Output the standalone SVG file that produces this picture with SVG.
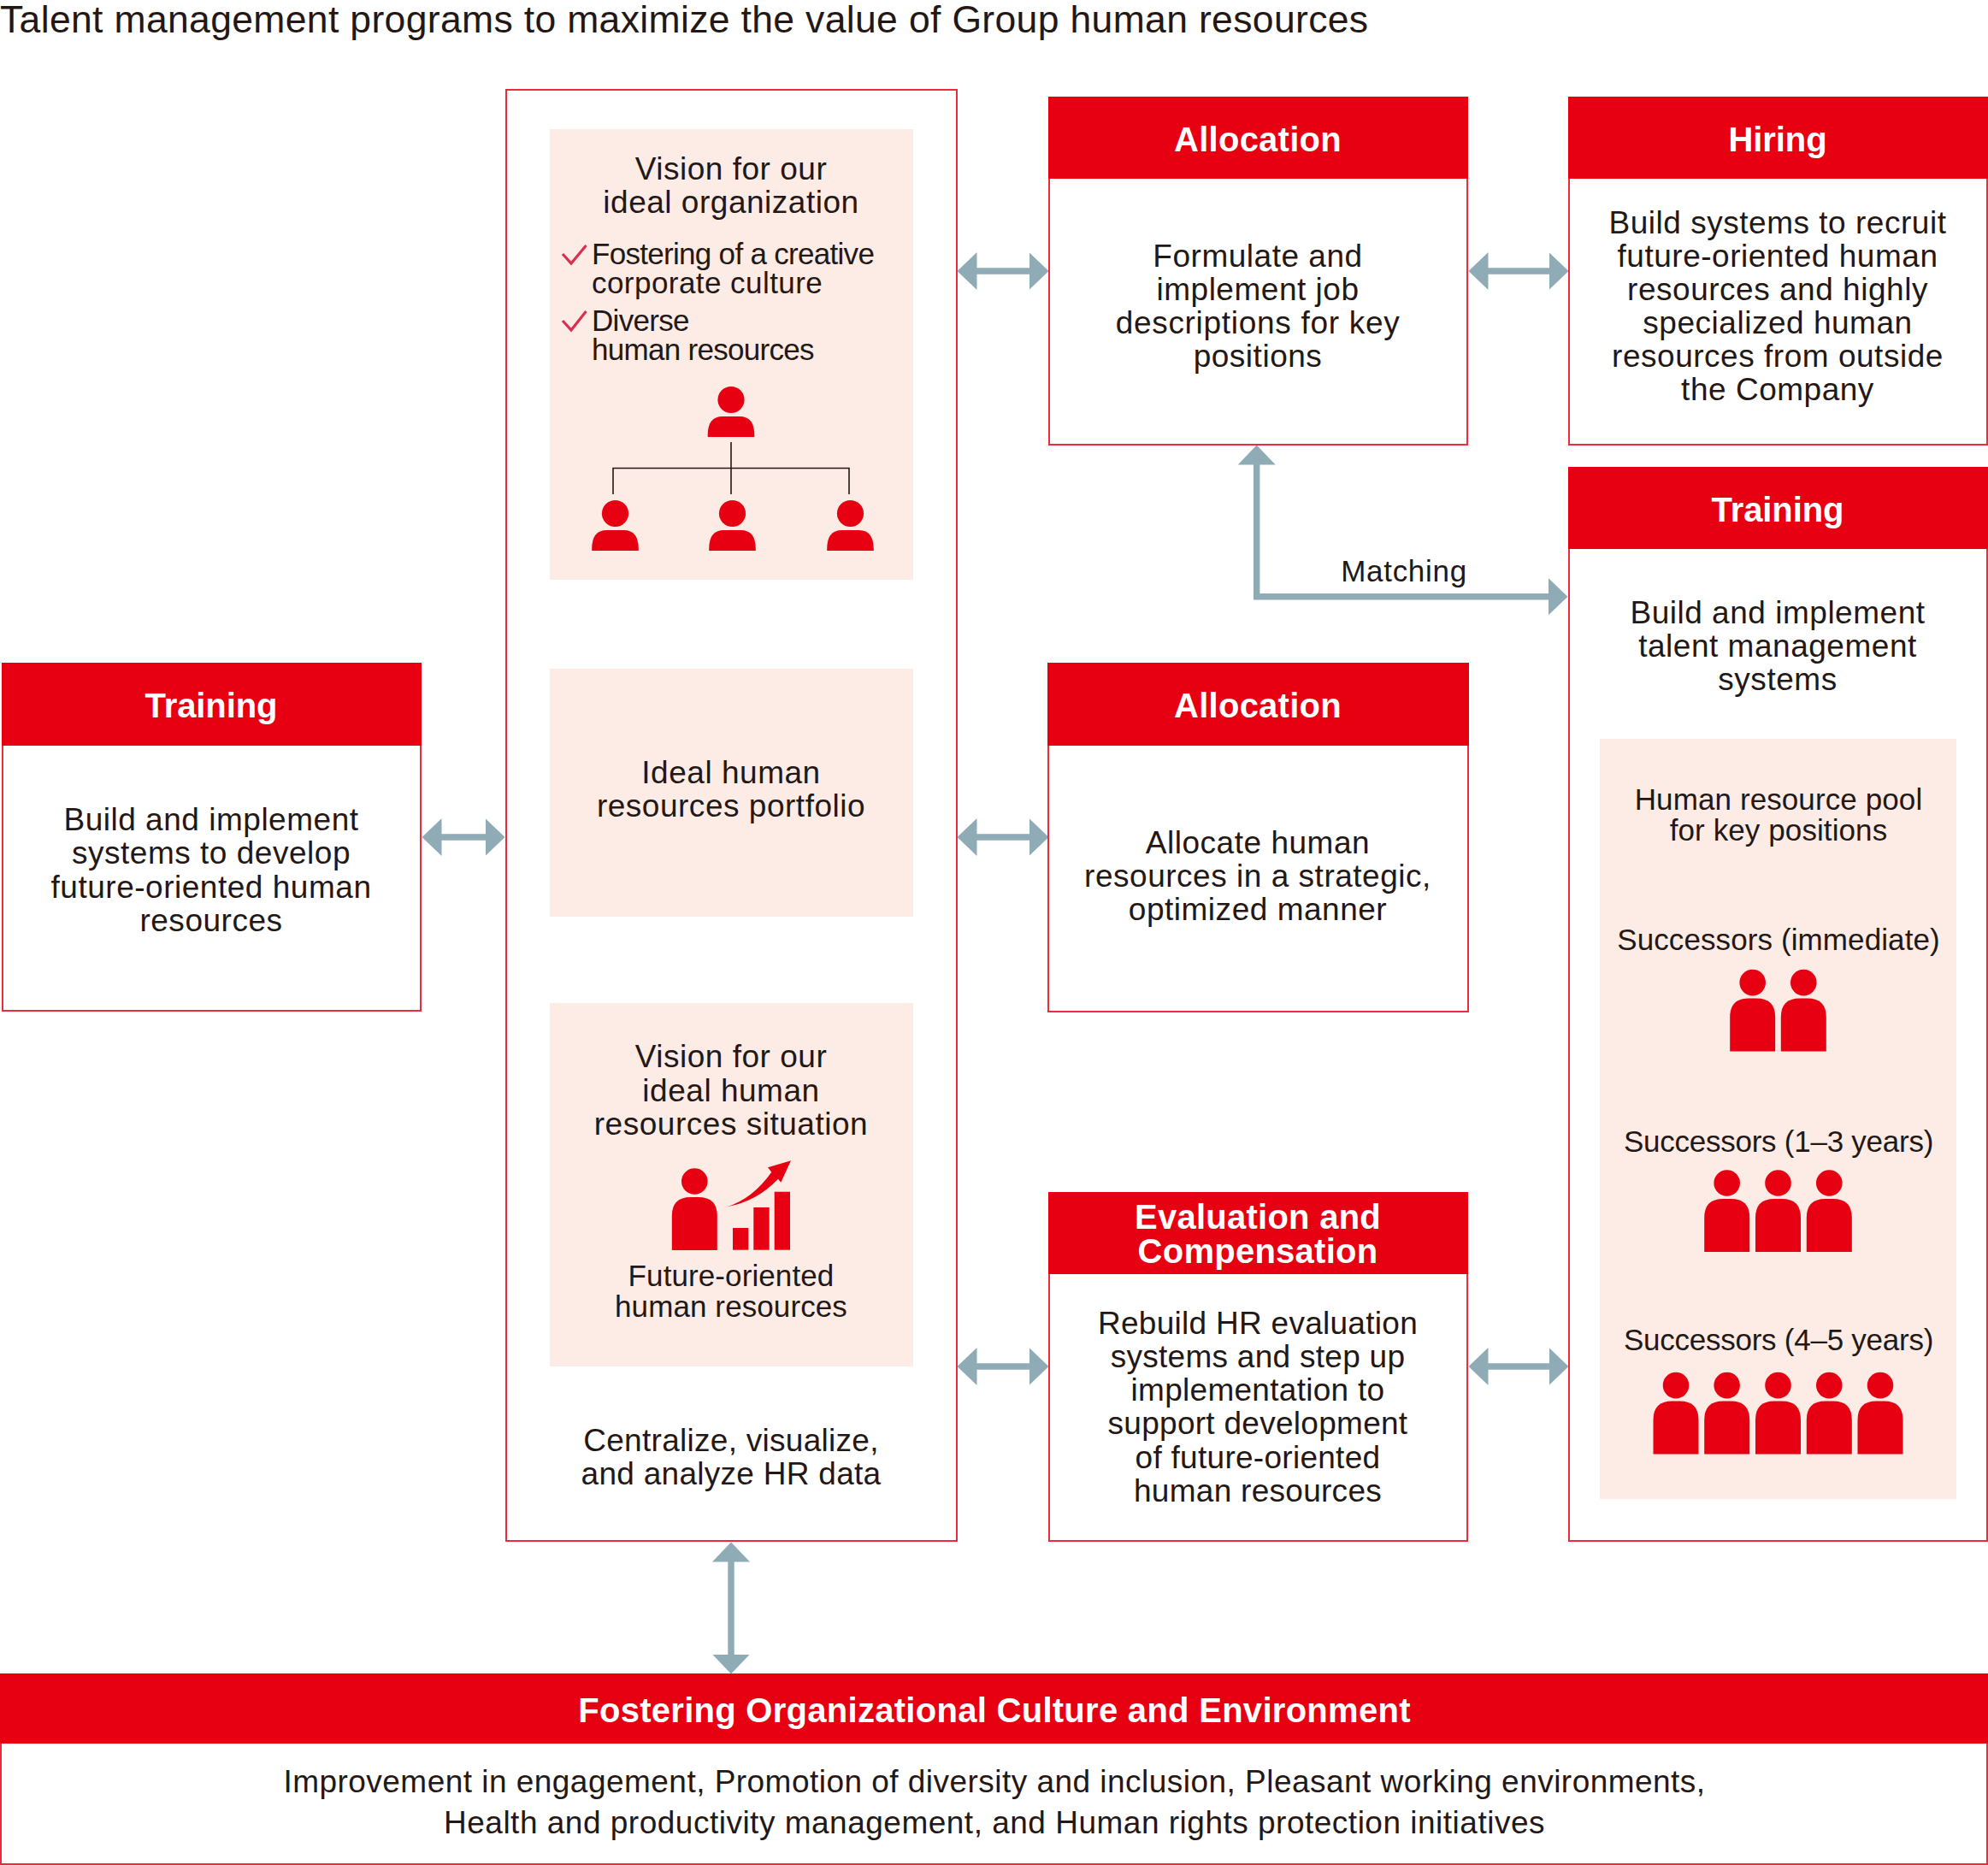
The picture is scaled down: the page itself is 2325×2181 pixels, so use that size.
<svg xmlns="http://www.w3.org/2000/svg" xmlns:xlink="http://www.w3.org/1999/xlink" width="2325" height="2181" viewBox="0 0 2325 2181">
<style>
text{font-family:"Liberation Sans",Arial,sans-serif;fill:#231815;text-anchor:middle}
.b{font-size:37px;letter-spacing:.52px}
.t{letter-spacing:.28px}
.s{font-size:35px;letter-spacing:.1px}
.y{letter-spacing:-.25px}
.h{font-size:40px;font-weight:700;fill:#fff;letter-spacing:.25px}
.n{letter-spacing:-.1px}
.l{text-anchor:start;font-size:35px;letter-spacing:-.7px}
.box{fill:#fff;stroke:#ee2a3f;stroke-width:2}
.hd{fill:#e60012}
.pk{fill:#fdece6}
.ic{fill:#e60012}
.cn{fill:none;stroke:#8fabb6;stroke-width:7.4}
.ck{fill:none;stroke:#d9304f;stroke-width:3.2}
.ln{fill:none;stroke:#231815;stroke-width:1.6}
</style>
<defs>
<marker id="ah" markerUnits="userSpaceOnUse" markerWidth="24" markerHeight="44" refX="0.5" refY="22" orient="auto-start-reverse"><path d="M0 0L23 22L0 44Z" fill="#8fabb6"/></marker>
<g id="p"><circle cx="0" cy="-18.5" r="15.3"/><path d="M-26.5 62V22Q-26.5 0 -4.5 0H4.5Q26.5 0 26.5 22V62Z"/></g>
<g id="o"><ellipse cx="0" cy="-19.5" rx="15.6" ry="15.4"/><path d="M-27.3 24V22Q-27.3 0 -10 0H10Q27.3 0 27.3 22V24Z"/></g>
</defs>
<rect width="2325" height="2181" fill="#fff"/>
<text x="0" y="38" style="font-size:44.5px;text-anchor:start;letter-spacing:.34px">Talent management programs to maximize the value of Group human resources</text>

<g id="connectors">
<line class="cn" x1="1142" y1="317" x2="1204" y2="317" marker-start="url(#ah)" marker-end="url(#ah)"/>
<line class="cn" x1="1740" y1="317" x2="1812" y2="317" marker-start="url(#ah)" marker-end="url(#ah)"/>
<line class="cn" x1="1142" y1="979" x2="1204" y2="979" marker-start="url(#ah)" marker-end="url(#ah)"/>
<line class="cn" x1="516" y1="979" x2="568" y2="979" marker-start="url(#ah)" marker-end="url(#ah)"/>
<line class="cn" x1="1142" y1="1598" x2="1204" y2="1598" marker-start="url(#ah)" marker-end="url(#ah)"/>
<line class="cn" x1="1740" y1="1598" x2="1812" y2="1598" marker-start="url(#ah)" marker-end="url(#ah)"/>
<line class="cn" x1="855" y1="1826" x2="855" y2="1935" marker-start="url(#ah)" marker-end="url(#ah)"/>
<path class="cn" d="M1469.7 543V697.7H1811" marker-start="url(#ah)" marker-end="url(#ah)"/>
<text x="1642" y="680" style="font-size:35px;letter-spacing:.7px">Matching</text>
</g>

<g id="data-panel">
<rect class="box" x="592" y="105" width="527" height="1697"/>
<g id="ideal-organization">
<rect class="pk" x="643" y="151" width="425" height="527"/>
<text class="b" x="855" y="210">Vision for our</text>
<text class="b" x="855" y="249">ideal organization</text>
<path class="ck" d="M658 297L668 308L685.5 287M658 375L668 386L685.5 364"/>
<text class="l" x="692" y="309">Fostering of a creative</text>
<text class="l" x="692" y="343" style="letter-spacing:.45px">corporate culture</text>
<text class="l" x="692" y="387">Diverse</text>
<text class="l" x="692" y="421">human resources</text>
<path class="ln" d="M855 517V578M717 578V547.5H993V578"/>
<g class="ic"><use href="#o" x="855" y="487"/><use href="#o" x="719.5" y="620"/><use href="#o" x="856.5" y="620"/><use href="#o" x="994.5" y="620"/></g>
</g>
<g id="portfolio">
<rect class="pk" x="643" y="782" width="425" height="290"/>
<text class="b" x="855" y="916">Ideal human</text>
<text class="b" x="855" y="955">resources portfolio</text>
</g>
<g id="ideal-situation">
<rect class="pk" x="643" y="1173" width="425" height="425"/>
<text class="b" x="855" y="1248">Vision for our</text>
<text class="b" x="855" y="1288">ideal human</text>
<text class="b" x="855" y="1327">resources situation</text>
<g class="ic">
<use href="#p" x="812.3" y="1400"/>
<rect x="857" y="1436" width="18.3" height="25.7"/>
<rect x="881.3" y="1412" width="18.4" height="49.7"/>
<rect x="905.7" y="1393.7" width="18.3" height="68"/>
<path d="M850 1411.3Q880 1402 902.3 1370.7L898 1365.3L925 1357.3L913.3 1382.7L910 1378.7Q885 1405 850 1411.3Z"/>
</g>
<text class="s" x="855" y="1504">Future-oriented</text>
<text class="s" x="855" y="1540">human resources</text>
</g>
<text class="b t" x="855" y="1697">Centralize, visualize,</text>
<text class="b t" x="855" y="1736">and analyze HR data</text>
</g>

<g id="allocation-1">
<rect class="box" x="1227" y="114" width="489" height="406"/>
<rect class="hd" x="1226" y="113" width="491" height="96"/>
<text class="h" x="1471" y="177">Allocation</text>
<text class="b" x="1471" y="312">Formulate and</text>
<text class="b" x="1471" y="351">implement job</text>
<text class="b" x="1471" y="390" style="letter-spacing:.7px">descriptions for key</text>
<text class="b" x="1471" y="429">positions</text>
</g>

<g id="hiring">
<rect class="box" x="1835" y="114" width="489" height="406"/>
<rect class="hd" x="1834" y="113" width="491" height="96"/>
<text class="h n" x="2079" y="177">Hiring</text>
<text class="b" x="2079" y="273">Build systems to recruit</text>
<text class="b" x="2079" y="312">future-oriented human</text>
<text class="b" x="2079" y="351">resources and highly</text>
<text class="b" x="2079" y="390">specialized human</text>
<text class="b" x="2079" y="429">resources from outside</text>
<text class="b" x="2079" y="468">the Company</text>
</g>

<g id="training-right">
<rect class="box" x="1835" y="547" width="489" height="1255"/>
<rect class="hd" x="1834" y="546" width="491" height="96"/>
<text class="h n" x="2079" y="610">Training</text>
<text class="b" x="2079" y="729">Build and implement</text>
<text class="b" x="2079" y="768">talent management</text>
<text class="b" x="2079" y="807">systems</text>
<rect class="pk" x="1871" y="864" width="417" height="889"/>
<text class="s" x="2080" y="947">Human resource pool</text>
<text class="s" x="2080" y="983">for key positions</text>
<text class="s" x="2080" y="1111">Successors (immediate)</text>
<text class="s y" x="2080" y="1347">Successors (1–3 years)</text>
<text class="s y" x="2080" y="1579">Successors (4–5 years)</text>
<g class="ic">
<use href="#p" x="2049.7" y="1167.6"/><use href="#p" x="2109.3" y="1167.6"/>
<use href="#p" x="2019.7" y="1402"/><use href="#p" x="2079.5" y="1402"/><use href="#p" x="2139.3" y="1402"/>
<use href="#p" x="1960" y="1638.6"/><use href="#p" x="2019.7" y="1638.6"/><use href="#p" x="2079.5" y="1638.6"/><use href="#p" x="2139.3" y="1638.6"/><use href="#p" x="2199" y="1638.6"/>
</g>
</g>

<g id="training-left">
<rect class="box" x="3" y="776" width="489" height="406"/>
<rect class="hd" x="2" y="775" width="491" height="97"/>
<text class="h n" x="247" y="839">Training</text>
<text class="b" x="247" y="971">Build and implement</text>
<text class="b" x="247" y="1010">systems to develop</text>
<text class="b" x="247" y="1050">future-oriented human</text>
<text class="b" x="247" y="1089">resources</text>
</g>

<g id="allocation-2">
<rect class="box" x="1226" y="776" width="491" height="407"/>
<rect class="hd" x="1225" y="775" width="493" height="97"/>
<text class="h" x="1471" y="839">Allocation</text>
<text class="b" x="1471" y="998">Allocate human</text>
<text class="b" x="1471" y="1037">resources in a strategic,</text>
<text class="b" x="1471" y="1076">optimized manner</text>
</g>

<g id="evaluation">
<rect class="box" x="1227" y="1395" width="489" height="407"/>
<rect class="hd" x="1226" y="1394" width="491" height="96"/>
<text class="h" x="1471" y="1437">Evaluation and</text>
<text class="h" x="1471" y="1477">Compensation</text>
<text class="b t" x="1471" y="1560">Rebuild HR evaluation</text>
<text class="b t" x="1471" y="1599">systems and step up</text>
<text class="b t" x="1471" y="1638">implementation to</text>
<text class="b t" x="1471" y="1677">support development</text>
<text class="b t" x="1471" y="1717">of future-oriented</text>
<text class="b t" x="1471" y="1756">human resources</text>
</g>

<g id="culture">
<rect class="box" x="1" y="1958" width="2323" height="222"/>
<rect class="hd" x="0" y="1957" width="2325" height="82"/>
<text class="h" x="1163" y="2014" style="letter-spacing:.28px">Fostering Organizational Culture and Environment</text>
<text class="b" x="1163" y="2096" style="letter-spacing:.47px">Improvement in engagement, Promotion of diversity and inclusion, Pleasant working environments,</text>
<text class="b" x="1163" y="2144" style="letter-spacing:.5px">Health and productivity management, and Human rights protection initiatives</text>
</g>
</svg>
